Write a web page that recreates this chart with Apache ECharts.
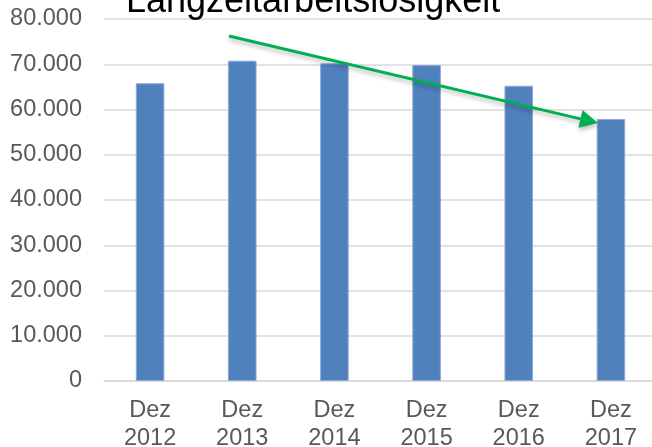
<!DOCTYPE html>
<html lang="de">
<head>
    <meta charset="UTF-8">
    <title>Langzeitarbeitslosigkeit</title>
    <script src="https://cdn.jsdelivr.net/npm/echarts@6/dist/echarts.min.js"></script>
    <style>
        html, body { margin: 0; padding: 0; background: #fff; }
        #main { width: 652px; height: 447px; }
    </style>
</head>
<body>
<div id="main"></div>
<script>
    // Daten
    let categories = ['Dez\n2012', 'Dez\n2013', 'Dez\n2014', 'Dez\n2015', 'Dez\n2016', 'Dez\n2017'];
    let values = [65800, 70800, 70200, 69850, 65250, 57900];
    let yTicks = [0, 10000, 20000, 30000, 40000, 50000, 60000, 70000, 80000];

    let font = '"Liberation Sans", Arial, sans-serif';

    // Pfeil (Trend-Annotation)
    let arrowStart = [229, 36];
    let arrowTip = [598, 123];
    let dx = arrowTip[0] - arrowStart[0], dy = arrowTip[1] - arrowStart[1];
    let len = Math.sqrt(dx * dx + dy * dy);
    let ux = dx / len, uy = dy / len;
    let headLen = 18, headHalf = 9;
    let base = [arrowTip[0] - ux * headLen, arrowTip[1] - uy * headLen];

    let myChart = echarts.init(document.getElementById('main'));
    let option = {
        animation: false,
        title: {
            text: 'Langzeitarbeitslosigkeit',
            left: 121,
            top: -21,
            textStyle: {
                fontFamily: font,
                fontSize: 36,
                lineHeight: 36,
                fontWeight: 'normal',
                color: '#000'
            }
        },
        grid: {
            left: 104,
            top: 19,
            width: 553,
            height: 362,
            containLabel: false,
            outerBoundsMode: 'none'
        },
        xAxis: {
            type: 'category',
            data: categories,
            axisTick: {show: false},
            axisLine: {lineStyle: {color: '#D9D9D9', width: 1.5}},
            axisLabel: {
                color: '#595959',
                fontFamily: font,
                fontSize: 23.5,
                lineHeight: 28,
                margin: 16
            }
        },
        yAxis: {
            type: 'value',
            min: yTicks[0],
            max: yTicks[yTicks.length - 1],
            interval: 10000,
            axisLine: {show: false},
            axisTick: {show: false},
            splitLine: {lineStyle: {color: '#D9D9D9', width: 1.5}},
            axisLabel: {
                color: '#595959',
                fontFamily: font,
                fontSize: 23.5,
                margin: 22,
                formatter: function (v) {
                    return String(v).replace(/\B(?=(\d{3})+(?!\d))/g, '.');
                }
            }
        },
        series: [{
            type: 'bar',
            data: values,
            barWidth: '31%',
            itemStyle: {
                color: '#4F81BD',
                borderColor: '#8EAAD6',
                borderWidth: 1
            }
        }],
        graphic: [
            {
                type: 'line',
                shape: {x1: arrowStart[0], y1: arrowStart[1], x2: base[0], y2: base[1]},
                style: {
                    stroke: '#00B050',
                    lineWidth: 3,
                    shadowBlur: 4,
                    shadowOffsetY: 3,
                    shadowColor: 'rgba(0,0,0,0.25)'
                },
                z: 100
            },
            {
                type: 'polygon',
                shape: {
                    points: [
                        arrowTip,
                        [base[0] - uy * headHalf, base[1] + ux * headHalf],
                        [base[0] + uy * headHalf, base[1] - ux * headHalf]
                    ]
                },
                style: {
                    fill: '#00B050',
                    shadowBlur: 4,
                    shadowOffsetY: 3,
                    shadowColor: 'rgba(0,0,0,0.25)'
                },
                z: 100
            }
        ]
    };
    myChart.setOption(option);
</script>
</body>
</html>
